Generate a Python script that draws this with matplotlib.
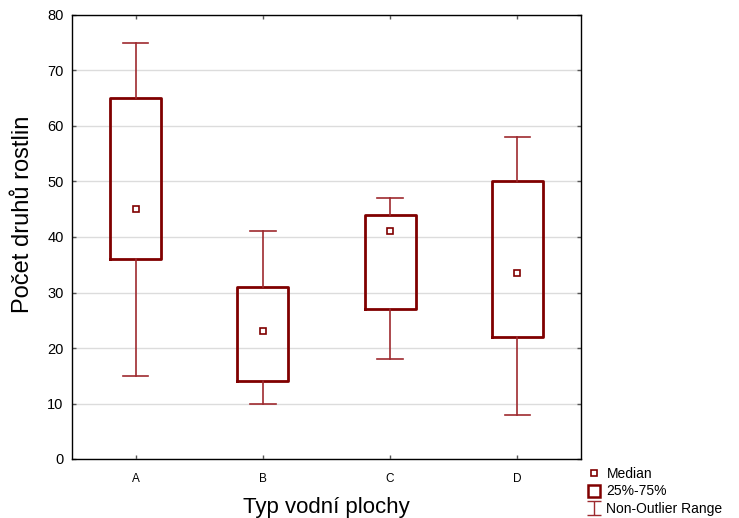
import matplotlib
matplotlib.use("Agg")
import matplotlib.pyplot as plt
from matplotlib.path import Path
from matplotlib.lines import Line2D

plt.rcParams['font.family'] = ['Liberation Sans', 'DejaVu Sans']

categories = ["A", "B", "C", "D"]
whis_low = [15, 10, 18, 8]
q1 = [36, 14, 27, 22]
medians = [45, 23, 41, 33.5]
q3 = [65, 31, 44, 50]
whis_high = [75, 41, 47, 58]

box_color = "#800000"
whisk_color = "#9e2a2f"

fig = plt.figure(figsize=(7.39, 5.18), dpi=100)
ax = fig.add_axes([72/739, 1-459/518, (581-72)/739, (459-15)/518])

stats = []
for i, c in enumerate(categories):
    stats.append(dict(label=c, whislo=whis_low[i], q1=q1[i], med=medians[i],
                      q3=q3[i], whishi=whis_high[i], fliers=[]))
positions = list(range(1, len(categories) + 1))
ax.bxp(stats, positions=positions, widths=0.4, showfliers=False,
       boxprops=dict(color=box_color, linewidth=2.0),
       whiskerprops=dict(color=whisk_color, linewidth=1.2),
       capprops=dict(color=whisk_color, linewidth=1.2),
       medianprops=dict(linestyle="none"), capwidths=0.2, zorder=3)
ax.plot(positions, medians, linestyle="none", marker="s", markersize=5,
        markerfacecolor="white", markeredgecolor=box_color, markeredgewidth=1.2, zorder=4)

ax.set_xlim(0.5, 4.5)
ax.set_ylim(0, 80)
ax.set_yticks(range(0, 81, 10))
ax.set_xticks(positions)
ax.set_xticklabels(categories)
ax.yaxis.grid(True, color="#dcdcdc", linewidth=1.0, zorder=0)
ax.set_axisbelow(True)
ax.tick_params(axis="both", direction="in", length=3, width=1, color="#555555",
               top=True, right=True)
ax.tick_params(axis="y", labelsize=10.5, pad=6)
ax.tick_params(axis="x", labelsize=8.5, pad=10)
for s in ax.spines.values():
    s.set_color("black")
    s.set_linewidth(1.0)

ax.set_ylabel("Počet druhů rostlin", fontsize=17)
ax.yaxis.set_label_coords(-0.074, 0.55)
ax.set_xlabel("Typ vodní plochy", fontsize=16, labelpad=9)

ibeam = Path([(-1, 1), (1, 1), (0, 1), (0, -1), (-1, -1), (1, -1)],
             [Path.MOVETO, Path.LINETO, Path.MOVETO, Path.LINETO, Path.MOVETO, Path.LINETO])
handles = [
    Line2D([], [], linestyle="none", marker="s", markersize=5, markerfacecolor="white",
           markeredgecolor=box_color, markeredgewidth=1.2),
    Line2D([], [], linestyle="none", marker="s", markersize=9, markerfacecolor="white",
           markeredgecolor=box_color, markeredgewidth=1.8),
    Line2D([], [], linestyle="none", marker=ibeam, markersize=10, markerfacecolor="none",
           markeredgecolor=whisk_color, markeredgewidth=1.0),
]
fig.legend(handles, ["Median", "25%-75%", "Non-Outlier Range"], loc="upper left",
           bbox_to_anchor=(580/739, 1-460/518), frameon=False, fontsize=10,
           handlelength=1.0, handletextpad=0.4, labelspacing=0.25, borderpad=0)

fig.savefig("out.png", dpi=100)
